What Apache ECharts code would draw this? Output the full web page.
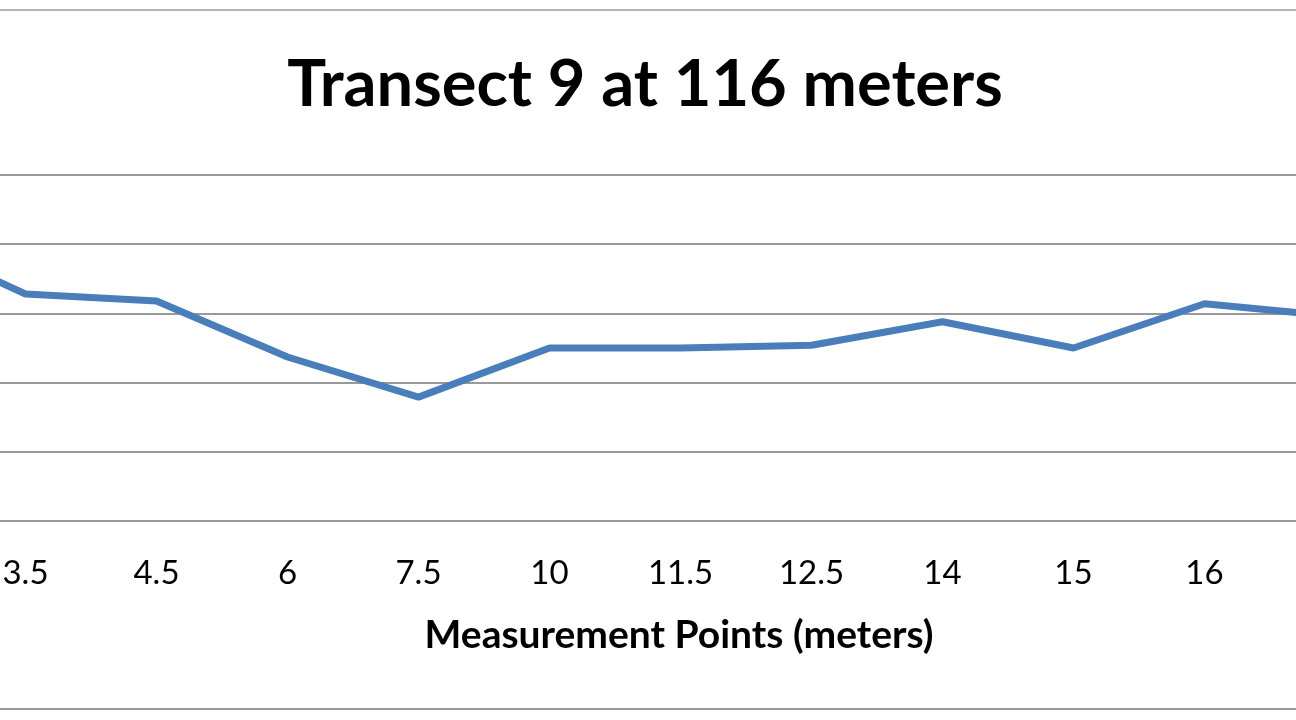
<!DOCTYPE html>
<html lang="en">
<head>
    <meta charset="UTF-8" />
    <title>Transect 9 at 116 meters</title>
    <style>
        body {
            margin: 0;
            padding: 0;
            overflow: hidden;
            background: #fff;
        }
        .frame {
            position: absolute;
            left: 0;
            top: 0;
            width: 1296px;
            height: 720px;
            overflow: hidden;
        }
        .rule {
            position: absolute;
            left: 0;
            width: 1296px;
            height: 2px;
        }
        /* the picture is a crop of a wider chart, so the chart is wider than the window */
        .chart {
            position: absolute;
            left: -171px;
            top: 0;
            width: 1572px;
            height: 720px;
        }
    </style>
</head>
<body>
<div class="frame">
    <div class="chart"></div>
    <div class="rule" style="top:9px;background:#b3b3b3"></div>
    <div class="rule" style="top:708px;background:#9a9a9a"></div>
</div>
<script src="https://cdn.jsdelivr.net/npm/echarts@6/dist/echarts.min.js"></script>
<script>
    // measurement points (meters); the first and last ones are cut off in the picture
    const points = ['2.5', '3.5', '4.5', '6', '7.5', '10', '11.5', '12.5', '14', '15', '16', '17'];
    // values (y axis labels are cropped away)
    const depth = [4.15, 3.28, 3.18, 2.37, 1.79, 2.5, 2.5, 2.54, 2.88, 2.5, 3.14, 2.96];
    const yTicks = [0, 1, 2, 3, 4, 5];

    const container = document.querySelector('.chart');
    const instance = echarts.init(container);
    const offset = 171; // chart div starts 171px left of the window

    const option = {
        animation: false,
        grid: {
            left: 0,
            right: 0,
            top: 175,
            bottom: 199
        },
        graphic: [
            {
                type: 'text',
                x: 645 + offset,
                y: 85,
                style: {
                    text: 'Transect 9 at 116 meters',
                    font: 'bold 65px Lato',
                    fill: '#000',
                    align: 'center',
                    verticalAlign: 'middle'
                }
            },
            {
                type: 'text',
                x: 679 + offset,
                y: 635,
                style: {
                    text: 'Measurement Points (meters)',
                    font: 'bold 39px Lato',
                    fill: '#000',
                    align: 'center',
                    verticalAlign: 'middle'
                }
            }
        ],
        xAxis: {
            type: 'category',
            data: points,
            boundaryGap: true,
            axisLine: { show: true, lineStyle: { color: '#999', width: 2 } },
            axisTick: { show: false },
            axisLabel: {
                margin: 36,
                fontFamily: 'Lato',
                fontSize: 33,
                color: '#000'
            }
        },
        yAxis: {
            type: 'value',
            min: yTicks[0],
            max: yTicks[yTicks.length - 1],
            interval: 1,
            axisLabel: { show: false },
            axisLine: { show: false },
            axisTick: { show: false },
            splitLine: { lineStyle: { color: '#999', width: 2 } }
        },
        series: [
            {
                type: 'line',
                data: depth,
                symbol: 'none',
                lineStyle: { color: '#4a7ebb', width: 7 }
            }
        ]
    };
    instance.setOption(option);
</script>
</body>
</html>
